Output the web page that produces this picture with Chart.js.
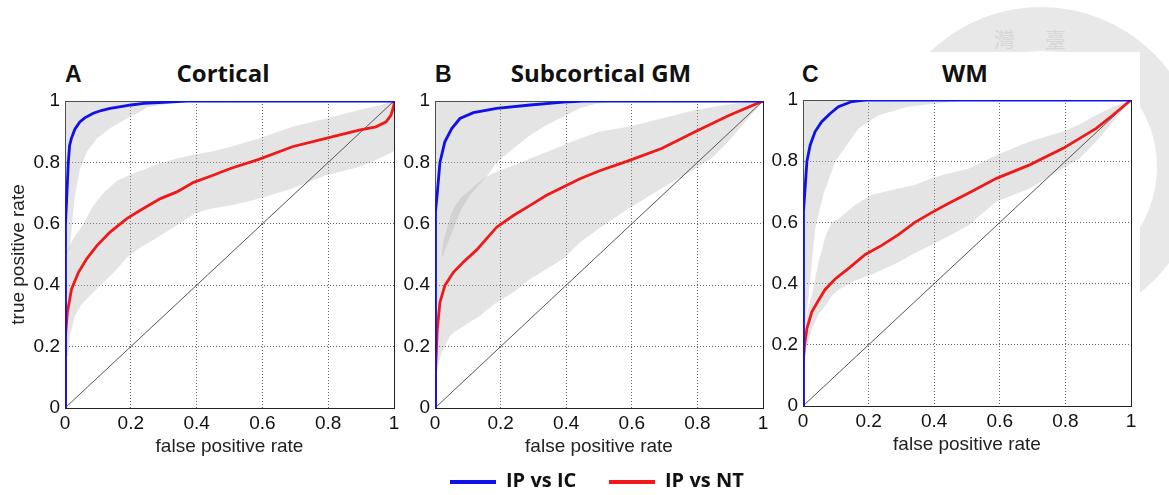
<!DOCTYPE html>
<html>
<head>
<meta charset="utf-8">
<script src="https://cdn.jsdelivr.net/npm/chart.js@4.4.1/dist/chart.umd.min.js"></script>
<style>
html,body{margin:0;padding:0;background:#fff;}
#wrap{position:relative;width:1169px;height:495px;overflow:hidden;background:#fff;}
canvas{position:absolute;}
.t{position:absolute;white-space:nowrap;line-height:1;color:#111;}
.lbl{font-family:"Liberation Sans",Arial,sans-serif;font-weight:bold;font-size:23px;}
.ttl{font-family:"Open Sans",sans-serif;font-weight:700;font-size:24px;transform:translateX(-50%);}
.leg{font-family:"Open Sans",sans-serif;font-weight:700;font-size:20px;}
.ln{position:absolute;height:4px;}
#ring{position:absolute;left:881px;top:7px;width:320px;height:320px;box-sizing:border-box;border-radius:50%;border:44px solid rgba(140,140,140,0.2);}
#cover{position:absolute;left:880px;top:52px;width:260px;height:443px;background:#fff;}
.seal{position:absolute;font-family:"Noto Sans CJK TC",sans-serif;font-size:21px;color:#d6d6d6;line-height:1;}
</style>
</head>
<body>
<div id="wrap">
  <div id="ring"></div>
  <div class="seal" style="left:994px;top:28px;">灣</div>
  <div class="seal" style="left:1045px;top:28px;">臺</div>
  <div id="cover"></div>

  <div class="t lbl" id="l0" style="left:65px;top:63px;"></div>
  <div class="t ttl" id="t0" style="left:223px;top:61px;"></div>
  <div class="t lbl" id="l1" style="left:435px;top:63px;"></div>
  <div class="t ttl" id="t1" style="left:601px;top:61px;"></div>
  <div class="t lbl" id="l2" style="left:802px;top:63px;"></div>
  <div class="t ttl" id="t2" style="left:965px;top:61px;"></div>

  <canvas id="cA" width="412" height="381" style="left:0px;top:85px;"></canvas>
  <canvas id="cB" width="380" height="381" style="left:396px;top:85px;"></canvas>
  <canvas id="cC" width="380" height="380" style="left:766px;top:84px;"></canvas>

  <div class="ln" style="left:450px;top:480px;width:46px;background:#1010e8;"></div>
  <div class="t leg" id="g0" style="left:506px;top:470px;"></div>
  <div class="ln" style="left:609px;top:480px;width:46px;background:#f01818;"></div>
  <div class="t leg" id="g1" style="left:665px;top:470px;"></div>
</div>
<script>
// ---------- data ----------
const panelLetters = ['A', 'B', 'C'];
const panelTitles = ['Cortical', 'Subcortical GM', 'WM'];
const seriesNames = ['IP vs IC', 'IP vs NT'];
const tickValues = [0, 0.2, 0.4, 0.6, 0.8, 1];
const tickLabels = ['0', '0.2', '0.4', '0.6', '0.8', '1'];
const xAxisTitle = 'false positive rate';
const yAxisTitle = 'true positive rate';
const diagX = [0, 1];
const diagY = [0, 1];

// Panel A - Cortical
const cortIcFpr = [0, 0, 0.003, 0.005, 0.01, 0.014, 0.02, 0.03, 0.045, 0.06, 0.086, 0.11, 0.137, 0.17, 0.2, 0.24, 0.3, 0.37, 1];
const cortIcTpr = [0, 0.4, 0.6, 0.68, 0.8, 0.855, 0.88, 0.908, 0.932, 0.945, 0.96, 0.969, 0.976, 0.982, 0.987, 0.992, 0.996, 1, 1];
const cortNtFpr = [0, 0, 0.003, 0.007, 0.02, 0.041, 0.066, 0.097, 0.137, 0.188, 0.229, 0.29, 0.34, 0.391, 0.442, 0.503, 0.589, 0.691, 0.793, 0.894, 0.945, 0.976, 0.991, 1, 1];
const cortNtTpr = [0, 0.17, 0.235, 0.31, 0.388, 0.442, 0.486, 0.529, 0.573, 0.617, 0.644, 0.682, 0.704, 0.735, 0.755, 0.78, 0.81, 0.851, 0.878, 0.905, 0.916, 0.932, 0.954, 0.987, 1];
const cortIcBandX = [0, 0.015, 0.02, 0.03, 0.046, 0.066, 0.097, 0.137, 0.188, 0.229, 0.25, 0.32, 0.37, 1];
const cortIcBandLo = [0.5, 0.518, 0.584, 0.693, 0.78, 0.834, 0.878, 0.911, 0.943, 0.965, 0.98, 0.992, 0.998, 1];
const cortIcBandHi = [1, 1, 1, 1, 1, 1, 1, 1, 1, 1, 1, 1, 1, 1];
const cortNtBandX = [0, 0.01, 0.015, 0.03, 0.046, 0.056, 0.086, 0.117, 0.137, 0.158, 0.188, 0.218, 0.239, 0.269, 0.29, 0.34, 0.391, 0.442, 0.503, 0.589, 0.691, 0.793, 0.894, 0.955, 0.996, 1];
const cortNtBandHi = [0.5, 0.518, 0.53, 0.56, 0.584, 0.6, 0.66, 0.7, 0.72, 0.74, 0.755, 0.769, 0.776, 0.791, 0.797, 0.813, 0.825, 0.835, 0.851, 0.878, 0.916, 0.943, 0.971, 0.985, 0.998, 1];
const cortNtBandLo = [0.17, 0.17, 0.235, 0.3, 0.33, 0.344, 0.377, 0.41, 0.43, 0.453, 0.49, 0.515, 0.529, 0.548, 0.562, 0.595, 0.632, 0.649, 0.66, 0.682, 0.715, 0.758, 0.785, 0.813, 0.834, 0.84];

// Panel B - Subcortical GM
const subIcFpr = [0, 0, 0.003, 0.007, 0.015, 0.03, 0.051, 0.076, 0.117, 0.188, 0.29, 0.391, 0.452, 1];
const subIcTpr = [0, 0.5, 0.64, 0.7, 0.8, 0.867, 0.91, 0.943, 0.962, 0.976, 0.987, 0.996, 1, 1];
const subNtFpr = [0, 0, 0.003, 0.007, 0.015, 0.03, 0.056, 0.086, 0.127, 0.188, 0.239, 0.29, 0.34, 0.391, 0.442, 0.5, 0.589, 0.691, 0.793, 0.894, 1];
const subNtTpr = [0, 0.1, 0.115, 0.257, 0.344, 0.399, 0.442, 0.475, 0.515, 0.589, 0.627, 0.66, 0.693, 0.72, 0.747, 0.772, 0.805, 0.845, 0.9, 0.952, 1];
const subIcBandX = [0, 0.005, 0.012, 0.02, 0.025, 0.036, 0.056, 0.081, 0.107, 0.137, 0.157, 0.188, 0.239, 0.29, 0.34, 0.391, 0.442, 0.493, 0.55, 1];
const subIcBandLo = [0.2, 0.3, 0.4, 0.49, 0.497, 0.53, 0.584, 0.649, 0.693, 0.73, 0.753, 0.8, 0.845, 0.889, 0.922, 0.949, 0.976, 0.992, 1, 1];
const subIcBandHi = [1, 1, 1, 1, 1, 1, 1, 1, 1, 1, 1, 1, 1, 1, 1, 1, 1, 1, 1, 1];
const subNtBandX = [0, 0.005, 0.012, 0.02, 0.025, 0.036, 0.046, 0.056, 0.081, 0.107, 0.137, 0.157, 0.188, 0.239, 0.29, 0.34, 0.391, 0.442, 0.5, 0.589, 0.691, 0.793, 0.843, 0.894, 0.945, 1];
const subNtBandHi = [0.2, 0.3, 0.4, 0.49, 0.54, 0.584, 0.62, 0.649, 0.688, 0.71, 0.739, 0.753, 0.77, 0.79, 0.813, 0.834, 0.856, 0.878, 0.9, 0.916, 0.943, 0.971, 0.98, 0.989, 0.995, 1];
const subNtBandLo = [0.115, 0.115, 0.15, 0.18, 0.19, 0.215, 0.235, 0.245, 0.262, 0.28, 0.3, 0.318, 0.344, 0.377, 0.42, 0.453, 0.486, 0.54, 0.585, 0.649, 0.715, 0.78, 0.813, 0.867, 0.932, 1];

// Panel C - WM
const wmIcFpr = [0, 0, 0.003, 0.007, 0.012, 0.022, 0.037, 0.057, 0.083, 0.108, 0.149, 0.19, 1];
const wmIcTpr = [0, 0.4, 0.635, 0.722, 0.8, 0.853, 0.897, 0.929, 0.956, 0.978, 0.995, 1, 1];
const wmNtFpr = [0, 0, 0.005, 0.012, 0.027, 0.047, 0.067, 0.098, 0.139, 0.19, 0.24, 0.291, 0.341, 0.392, 0.443, 0.504, 0.59, 0.691, 0.793, 0.894, 0.945, 1];
const wmNtTpr = [0, 0.14, 0.2, 0.254, 0.308, 0.345, 0.38, 0.415, 0.45, 0.495, 0.525, 0.56, 0.6, 0.632, 0.662, 0.695, 0.744, 0.788, 0.842, 0.907, 0.951, 1];
const wmIcBandX = [0, 0.01, 0.017, 0.027, 0.037, 0.062, 0.098, 0.169, 0.23, 0.32, 0.46, 0.5, 1];
const wmIcBandLo = [0.2, 0.3, 0.36, 0.47, 0.58, 0.69, 0.798, 0.907, 0.95, 0.978, 0.995, 1, 1];
const wmIcBandHi = [1, 1, 1, 1, 1, 1, 1, 1, 1, 1, 1, 1, 1];
const wmNtBandX = [0, 0.005, 0.012, 0.027, 0.047, 0.07, 0.088, 0.108, 0.159, 0.21, 0.291, 0.341, 0.392, 0.443, 0.504, 0.59, 0.691, 0.793, 0.843, 0.894, 0.945, 1];
const wmNtBandHi = [0.2, 0.25, 0.3, 0.36, 0.47, 0.56, 0.6, 0.612, 0.657, 0.69, 0.711, 0.722, 0.744, 0.76, 0.775, 0.82, 0.864, 0.897, 0.92, 0.951, 0.978, 1];
const wmNtBandLo = [0.14, 0.145, 0.2, 0.25, 0.3, 0.33, 0.36, 0.38, 0.41, 0.43, 0.47, 0.5, 0.526, 0.555, 0.59, 0.668, 0.711, 0.777, 0.809, 0.864, 0.929, 1];

// ---------- styling ----------
const BLUE = '#1010e8';
const RED = '#f01818';
const BAND = 'rgba(170,170,170,0.32)';
const GRID = 'rgba(70,70,70,0.85)';
const FONT = '"Liberation Sans", Arial, sans-serif';
const NONE = 'rgba(0,0,0,0)';

panelLetters.forEach((s, i) => { document.getElementById('l' + i).textContent = s; });
panelTitles.forEach((s, i) => { document.getElementById('t' + i).textContent = s; });
seriesNames.forEach((s, i) => { document.getElementById('g' + i).textContent = s; });

const toPts = (xs, ys) => xs.map((x, i) => ({x: x, y: ys[i]}));

function makePanel(id, p, geo) {
  const datasets = [
    {label: seriesNames[0], data: toPts(p.icFpr, p.icTpr), borderColor: BLUE, borderWidth: 2.8, pointRadius: 0, fill: false},
    {label: seriesNames[1], data: toPts(p.ntFpr, p.ntTpr), borderColor: RED, borderWidth: 2.8, pointRadius: 0, fill: false},
    {label: 'chance', data: toPts(diagX, diagY), borderColor: '#555', borderWidth: 1, pointRadius: 0, fill: false},
    {label: 'icHi', data: toPts(p.icBandX, p.icBandHi), borderColor: NONE, borderWidth: 0, pointRadius: 0, fill: false},
    {label: 'icLo', data: toPts(p.icBandX, p.icBandLo), borderColor: NONE, borderWidth: 0, pointRadius: 0, fill: '-1', backgroundColor: BAND},
    {label: 'ntHi', data: toPts(p.ntBandX, p.ntBandHi), borderColor: NONE, borderWidth: 0, pointRadius: 0, fill: false},
    {label: 'ntLo', data: toPts(p.ntBandX, p.ntBandLo), borderColor: NONE, borderWidth: 0, pointRadius: 0, fill: '-1', backgroundColor: BAND}
  ];
  const tickFont = {family: FONT, size: 19, lineHeight: 1};
  const titleFont = {family: FONT, size: 19, lineHeight: 1.2};
  const setTicks = s => { s.ticks = tickValues.map(v => ({value: v})); };
  new Chart(document.getElementById(id), {
    type: 'line',
    data: {datasets: datasets},
    options: {
      responsive: false,
      animation: false,
      devicePixelRatio: 1,
      events: [],
      layout: {padding: {left: 0, right: geo.padR, top: geo.padT, bottom: 0}},
      plugins: {legend: {display: false}, tooltip: {enabled: false}, title: {display: false}},
      scales: {
        x: {
          type: 'linear', position: 'bottom', min: 0, max: 1,
          afterBuildTicks: setTicks,
          ticks: {callback: (v, i) => tickLabels[i], font: tickFont, color: '#111', padding: 6, maxRotation: 0, autoSkip: false},
          grid: {color: GRID, lineWidth: 1, drawTicks: false, borderDash: [1, 2]},
          border: {display: true, color: '#222', width: 1, dash: [1, 2]},
          title: {display: true, text: xAxisTitle, font: titleFont, color: '#222', padding: {top: 0, bottom: geo.xtPad}},
          afterFit: s => { s.height = geo.xH; }
        },
        y: {
          type: 'linear', position: 'left', min: 0, max: 1,
          afterBuildTicks: setTicks,
          ticks: {callback: (v, i) => tickLabels[i], font: tickFont, color: '#111', padding: 5, autoSkip: false},
          grid: {color: GRID, lineWidth: 1, drawTicks: false, borderDash: [1, 2]},
          border: {display: true, color: '#222', width: 1, dash: [1, 2]},
          title: {display: geo.yTitle, text: yAxisTitle, font: titleFont, color: '#222', padding: {top: 7, bottom: 0}},
          afterFit: s => { s.width = geo.yW; }
        },
        x2: {
          type: 'linear', axis: 'x', position: 'top', min: 0, max: 1, display: true,
          ticks: {display: false}, grid: {display: false, drawTicks: false},
          border: {display: true, color: '#222', width: 1},
          afterFit: s => { s.height = 0; }
        },
        y2: {
          type: 'linear', axis: 'y', position: 'right', min: 0, max: 1, display: true,
          ticks: {display: false}, grid: {display: false, drawTicks: false},
          border: {display: true, color: '#222', width: 1},
          afterFit: s => { s.width = 0; }
        }
      }
    }
  });
}

makePanel('cA', {
  icFpr: cortIcFpr, icTpr: cortIcTpr, ntFpr: cortNtFpr, ntTpr: cortNtTpr,
  icBandX: cortIcBandX, icBandLo: cortIcBandLo, icBandHi: cortIcBandHi,
  ntBandX: cortNtBandX, ntBandLo: cortNtBandLo, ntBandHi: cortNtBandHi
}, {yW: 65, padR: 18, padT: 16, xH: 58, xtPad: 8, yTitle: true});

makePanel('cB', {
  icFpr: subIcFpr, icTpr: subIcTpr, ntFpr: subNtFpr, ntTpr: subNtTpr,
  icBandX: subIcBandX, icBandLo: subIcBandLo, icBandHi: subIcBandHi,
  ntBandX: subNtBandX, ntBandLo: subNtBandLo, ntBandHi: subNtBandHi
}, {yW: 39, padR: 13, padT: 16, xH: 58, xtPad: 8, yTitle: false});

makePanel('cC', {
  icFpr: wmIcFpr, icTpr: wmIcTpr, ntFpr: wmNtFpr, ntTpr: wmNtTpr,
  icBandX: wmIcBandX, icBandLo: wmIcBandLo, icBandHi: wmIcBandHi,
  ntBandX: wmNtBandX, ntBandLo: wmNtBandLo, ntBandHi: wmNtBandHi
}, {yW: 37, padR: 15, padT: 16, xH: 58, xtPad: 7.4, yTitle: false});
</script>
</body>
</html>
